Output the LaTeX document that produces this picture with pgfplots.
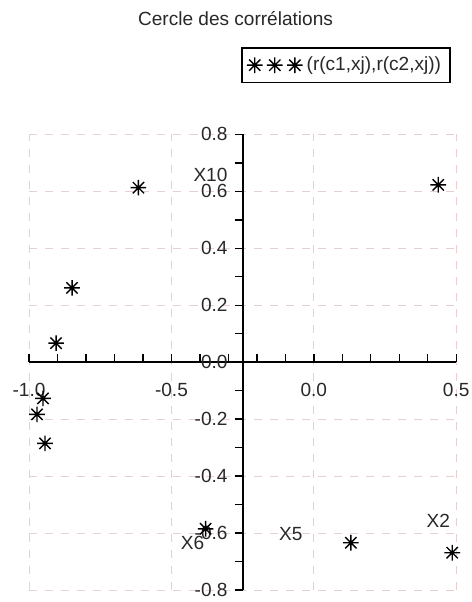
\documentclass[border=0pt]{standalone}
\usepackage{fontspec}
\setmainfont{Liberation Sans}
\usepackage{pgfplots}
\pgfplotsset{compat=1.18}
\definecolor{gridpink}{RGB}{232,208,208}
\definecolor{txtgray}{RGB}{40,40,40}

% eight-spoke asterisk like the original
\pgfdeclareplotmark{star8}{%
  \pgfpathmoveto{\pgfqpoint{0pt}{\pgfplotmarksize}}%
  \pgfpathlineto{\pgfqpoint{0pt}{-\pgfplotmarksize}}%
  \pgfpathmoveto{\pgfqpoint{\pgfplotmarksize}{0pt}}%
  \pgfpathlineto{\pgfqpoint{-\pgfplotmarksize}{0pt}}%
  \pgfpathmoveto{\pgfqpoint{.72\pgfplotmarksize}{.72\pgfplotmarksize}}%
  \pgfpathlineto{\pgfqpoint{-.72\pgfplotmarksize}{-.72\pgfplotmarksize}}%
  \pgfpathmoveto{\pgfqpoint{-.72\pgfplotmarksize}{.72\pgfplotmarksize}}%
  \pgfpathlineto{\pgfqpoint{.72\pgfplotmarksize}{-.72\pgfplotmarksize}}%
  \pgfusepathqstroke}

\begin{document}
\begin{tikzpicture}[font=\fontsize{9.5}{11}\selectfont]
\begin{axis}[
  x=142pt, y=142pt,
  xmin=-1, xmax=0.5, ymin=-0.8, ymax=0.8,
  axis lines=middle,
  axis line style={-, line width=0.9pt},
  axis y line shift=35.5pt,
  hide obscured x ticks=false,
  hide obscured y ticks=false,
  xtick={-1,-0.5,0,0.5},
  ytick={-0.8,-0.6,-0.4,-0.2,0,0.2,0.4,0.6,0.8},
  minor x tick num=4,
  minor y tick num=1,
  major tick length=4pt,
  minor tick length=4pt,
  xtick align=inside,
  ytick align=outside,
  tick style={black, line width=0.7pt},
  grid=major,
  major grid style={gridpink, dash pattern=on 4pt off 4pt, line width=0.5pt},
  /pgf/number format/.cd, fixed, fixed zerofill, precision=1, assume math mode=true,
  /pgfplots/.cd,
  tick label style={txtgray},
  xticklabel style={yshift=-7pt},
  clip=false,
  legend style={at={(axis cs:0.113,1.043)}, anchor=center, draw=black,
    line width=0.8pt, inner sep=2.5pt, text=txtgray,
    /tikz/every even column/.append style={column sep=3pt}},
  legend image code/.code={%
    \draw[#1, only marks] plot coordinates {(-2pt,0pt) (8pt,0pt) (18pt,0pt)};},
]
\addplot[only marks, mark=star8, mark size=3.9pt, mark options={line width=0.7pt, black}]
  coordinates {
  (-0.616,0.613) (0.437,0.623) (-0.849,0.261) (-0.905,0.067)
  (-0.951,-0.127) (-0.972,-0.183) (-0.944,-0.285)
  (-0.380,-0.585) (0.130,-0.634) (0.486,-0.669)};
\addlegendentry{(r(c1,xj),r(c2,xj))}

\node[txtgray] at (axis cs:-0.363,0.656) {X10};
\node[txtgray] at (axis cs:-0.426,-0.634) {X6};
\node[txtgray] at (axis cs:-0.081,-0.602) {X5};
\node[txtgray] at (axis cs:0.437,-0.556) {X2};
\node[txtgray] at (axis cs:-0.275,1.208) {Cercle des corrélations};

\coordinate (bbsw) at (axis cs:-1.102,-0.842);
\coordinate (bbne) at (axis cs:0.553,1.272);
\end{axis}
\pgfresetboundingbox
\path[use as bounding box] (bbsw) rectangle (bbne);
\end{tikzpicture}
\end{document}
